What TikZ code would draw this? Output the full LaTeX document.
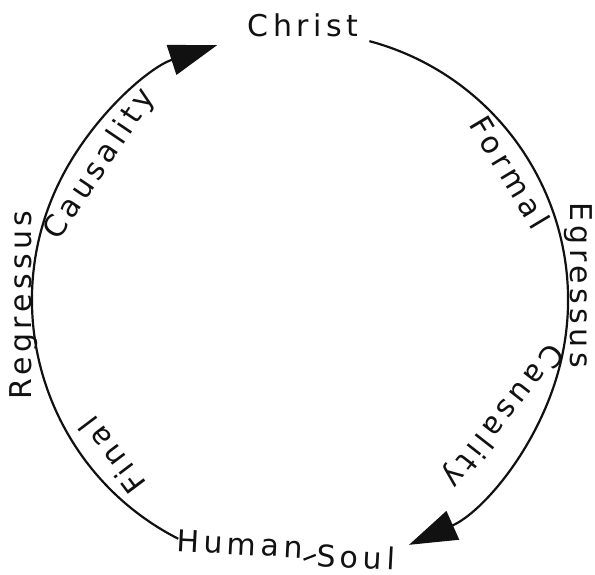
\documentclass[tikz,border=0pt]{standalone}
\usepackage{xcolor}
\usepackage{tikz}
\usepackage{fontspec}
\usetikzlibrary{arrows.meta, positioning, calc}
\newfontfamily\handfont[LetterSpace=15]{DejaVu Sans}
\definecolor{ink}{HTML}{111111}

\begin{document}
\begin{tikzpicture}[
    x=1pt, y=1pt,
    lbl/.style={font=\handfont\fontsize{30}{32}\selectfont, text=ink, inner sep=1pt},
    ring/.style={draw=ink, line width=2.2pt},
    arr/.style={ring, -{Triangle[length=48pt, width=31pt]}},
]
    \useasboundingbox (0,0) rectangle (595,574);
    \coordinate (c) at (300,274);

    % poles
    \node[lbl, anchor=base] (christ) at (303,537) {Christ};
    \node[lbl, rotate=-3] (human) at (240,30) {Human};
    \node[lbl, rotate=-3] (soul) at (356,17) {Soul};

    % circle
    \coordinate (l0) at ($(c)+(243:268)$);
    \coordinate (r0) at ($(c)+(75:268)$);
    \draw[arr] (l0) arc[start angle=243, end angle=108, radius=268];
    \draw[arr] (r0) arc[start angle=75, end angle=-66, radius=268];
    \draw[ring] (human.south east) -- (soul.west);

    % side labels
    \node[lbl, rotate=90, anchor=base] (regr) at (31,269) {Regressus};
    \node[lbl, rotate=-90, anchor=base] (egr) at (570,289) {Egressus};
    \node[lbl, rotate=56] (causl) at (100,409) {Causality};
    \node[lbl, rotate=-59] (formal) at (510,402) {Formal};
    \node[lbl, rotate=232] (causr) at (502,159) {Causality};
    \node[lbl, rotate=127] (final) at (112,119) {Final};
\end{tikzpicture}
\end{document}
